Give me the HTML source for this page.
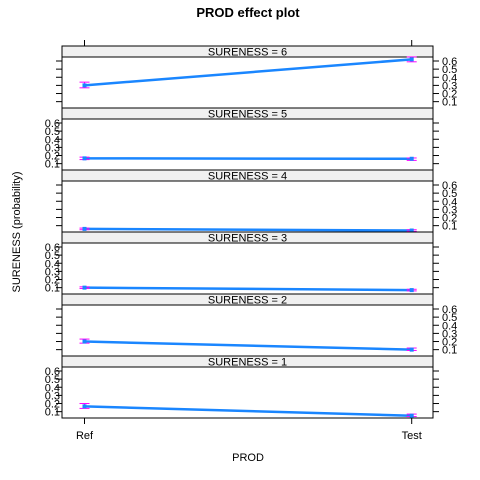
<!DOCTYPE html>
<html><head><meta charset="utf-8"><style>
body{margin:0;background:#fff}
svg{display:block;font-family:"Liberation Sans",Arial,sans-serif}
</style></head><body>
<svg id="c" width="480" height="480" xmlns="http://www.w3.org/2000/svg">
<text x="248" y="17" text-anchor="middle" font-size="13" font-weight="bold">PROD effect plot</text>
<text x="248" y="461" text-anchor="middle" font-size="11">PROD</text>
<text transform="translate(20,232) rotate(-90)" text-anchor="middle" font-size="11">SURENESS (probability)</text>
</svg>
<script>
const panels=["6","5","4","3","2","1"];
const refVals=[0.30,0.165,0.06,0.10,0.20,0.165];
const testVals=[0.62,0.16,0.04,0.07,0.10,0.05];
const refLo=[0.27,0.15,0.05,0.09,0.18,0.14];
const refHi=[0.34,0.18,0.07,0.11,0.23,0.20];
const testLo=[0.59,0.14,0.03,0.06,0.09,0.04];
const testHi=[0.65,0.17,0.05,0.08,0.12,0.07];
const categories=["Ref","Test"];
const yTicks=[0.1,0.2,0.3,0.4,0.5,0.6];
const svg=document.getElementById('c');
const NS='http://www.w3.org/2000/svg';
const L=62,R=433,TOP=46,PH=62,SH=11;
const xs=i=>84.5+i*(411.7-84.5);
function y(p,v){return TOP+p*PH+SH+4+(0.6-v)*81.3;}
function mk(t,a,txt){const e=document.createElementNS(NS,t);for(const k in a)e.setAttribute(k,a[k]);if(txt!==undefined)e.textContent=txt;svg.appendChild(e);return e;}
panels.forEach((lab,p)=>{
  const top=TOP+p*PH;
  let s=mk('rect',{x:L,y:top,width:R-L,height:SH,fill:'#f0f0f0',stroke:'#000','stroke-width':1});
  
  
  let st=mk('text',{x:(L+R)/2,y:top+9.5,'text-anchor':'middle','font-size':11},'SURENESS = '+lab);
  
  
  let f=mk('rect',{x:L,y:top+SH,width:R-L,height:PH-SH,fill:'none',stroke:'#000','stroke-width':1});
  
  
  const leftLabels=(p%2===1);
  yTicks.forEach(v=>{
    const yy=y(p,v);
    mk('line',{x1:L-6,x2:L,y1:yy,y2:yy,stroke:'#000'});
    mk('line',{x1:R,x2:R+6,y1:yy,y2:yy,stroke:'#000'});
    if(leftLabels){let t=mk('text',{x:L-2,y:yy+4,'text-anchor':'end','font-size':11},v.toFixed(1));
      }
    else{let t=mk('text',{x:R+9,y:yy+4,'font-size':11},v.toFixed(1));
      }
  });
  let ln=mk('line',{x1:xs(0),y1:y(p,refVals[p]),x2:xs(1),y2:y(p,testVals[p]),stroke:'#1a86ff','stroke-width':2.5});
  
  
  [[refLo,refHi,0],[testLo,testHi,1]].forEach(([lo,hi,i])=>{
    const x=xs(i),a=y(p,lo[p]),b=y(p,hi[p]);
    mk('line',{x1:x,x2:x,y1:a,y2:b,stroke:'#ff00ff','stroke-width':1});
    mk('line',{x1:x-5,x2:x+5,y1:a,y2:a,stroke:'#ff00ff','stroke-width':1});
    let eb=mk('line',{x1:x-5,x2:x+5,y1:b,y2:b,stroke:'#ff00ff','stroke-width':1});
    
    
    mk('rect',{x:x-2,y:y(p,[refVals,testVals][i][p])-2,width:4,height:4,fill:'#1a86ff'});
  });
});
categories.forEach((c,i)=>{
  const x=xs(i),bot=TOP+6*PH;
  mk('line',{x1:x,x2:x,y1:TOP-6,y2:TOP,stroke:'#000'});
  mk('line',{x1:x,x2:x,y1:bot,y2:bot+6,stroke:'#000'});
  let t=mk('text',{x:x,y:bot+21,'text-anchor':'middle','font-size':11},c);
  
  
});
</script>
</body></html>
